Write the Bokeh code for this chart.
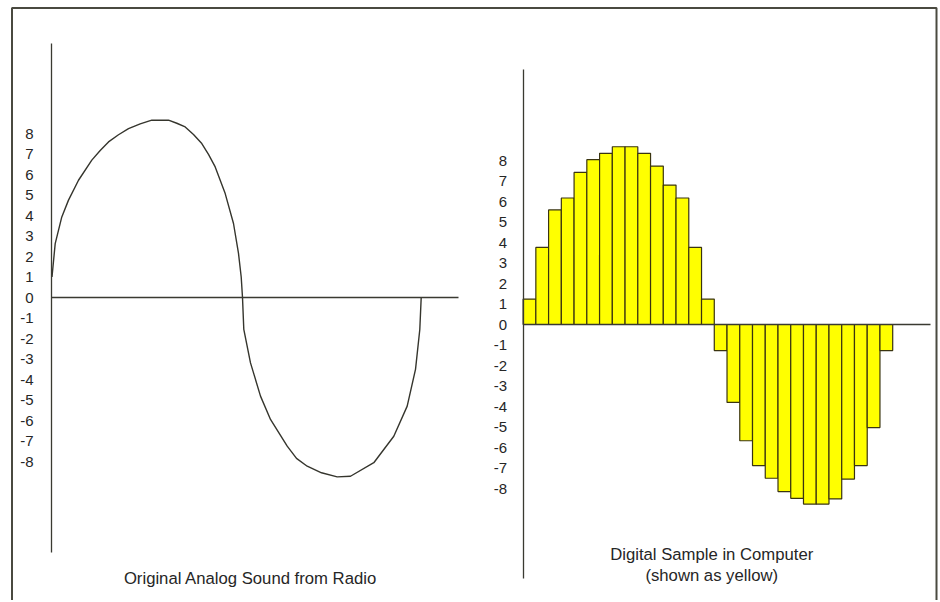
from bokeh.plotting import figure
from bokeh.models import Range1d, LinearAxis, FixedTicker, Label, BoxAnnotation
from bokeh.embed import file_html
from bokeh.resources import INLINE

# ---------------- data ----------------
# left panel: analog waveform (time units, amplitude)
analog_t = [0.5, 3.7, 10.3, 17, 27, 40.3, 48.7, 57, 67, 77, 88.7, 100.3, 117, 125.3, 133.7,
            142, 150.3, 157, 163.7, 173.7, 182, 187, 189.7, 191, 192.3, 199, 209, 219,
            235.7, 245, 255.7, 270, 285.7, 299, 322.3, 342.3, 355.7, 364, 368.3, 369.7]
analog_v = [1.0, 2.63, 3.93, 4.75, 5.72, 6.70, 7.17, 7.59, 7.94, 8.24, 8.47, 8.65, 8.65, 8.5, 8.32,
            7.95, 7.51, 6.98, 6.37, 5.07, 3.61, 2.15, 1.0, 0.0, -1.56, -3.19, -4.81, -5.95,
            -7.25, -7.85, -8.23, -8.55, -8.75, -8.72, -8.06, -6.77, -5.30, -3.51, -1.56, 0.0]

# right panel: digital samples
sample_idx = list(range(1, 30))
sample_v = [1.24, 3.76, 5.59, 6.17, 7.42, 8.04, 8.35, 8.67, 8.67, 8.35, 7.73, 6.80, 6.17, 3.76, 1.24,
            -1.27, -3.80, -5.67, -6.88, -7.50, -8.15, -8.48, -8.76, -8.76, -8.51, -7.54, -6.88, -5.03, -1.27]

tick_values = list(range(-8, 9))
tick_labels = [str(v) for v in tick_values]
left_caption = "Original Analog Sound from Radio"
right_caption = ["Digital Sample in Computer", "(shown as yellow)"]

# ---------------- styling ----------------
W, H = 938, 600
FONT = "Liberation Sans"
AX = "#3a3a32"
TXT = "#262626"
PXU_L_X = 1.0      # px per time unit (left)
PXU_Y = 20.5       # px per amplitude unit
PXU_R_X = 12.745   # px per sample (right)

l_axis_px, l_zero_px = 51.0, 297.0
r_axis_px, r_zero_px = 522.6, 324.0

p = figure(width=W, height=H, output_backend="svg", toolbar_location=None,
           x_axis_type=None, y_axis_type=None,
           x_range=Range1d(-l_axis_px / PXU_L_X, (W - l_axis_px) / PXU_L_X),
           y_range=Range1d(-(H - l_zero_px) / PXU_Y, l_zero_px / PXU_Y),
           min_border_left=0, min_border_right=0, min_border_top=0, min_border_bottom=0)
p.outline_line_color = None
p.background_fill_color = "white"
p.border_fill_color = "white"
p.extra_x_ranges = {"rx": Range1d(0.5 - r_axis_px / PXU_R_X, 0.5 + (W - r_axis_px) / PXU_R_X)}
p.extra_y_ranges = {"ry": Range1d(-(H - r_zero_px) / PXU_Y, r_zero_px / PXU_Y)}

overrides = dict(zip(tick_values, tick_labels))

def yaxis(**kw):
    return LinearAxis(ticker=FixedTicker(ticks=tick_values), major_label_overrides=overrides,
                      major_tick_line_color=None, minor_tick_line_color=None,
                      axis_line_color=AX, axis_line_width=1.3,
                      major_label_text_font=FONT, major_label_text_font_size="15px",
                      major_label_text_color=TXT, **kw)

def zaxis(**kw):
    return LinearAxis(ticker=FixedTicker(ticks=[]), major_tick_line_color=None,
                      minor_tick_line_color=None, axis_line_color=AX, axis_line_width=1.3,
                      major_label_text_font_size="0px", **kw)

# left panel
p.add_layout(yaxis(fixed_location=0, bounds=(-12.44, 12.39), major_label_standoff=12), "left")
p.add_layout(zaxis(fixed_location=0, bounds=(0, 407)), "below")
p.line(analog_t, analog_v, line_color="#35352d", line_width=1.4)

# right panel
p.vbar(x=sample_idx, top=sample_v, bottom=0, width=1.0, fill_color="#ffff00",
       line_color="#3a3410", line_width=1.2, x_range_name="rx", y_range_name="ry")
p.add_layout(yaxis(fixed_location=0.5, bounds=(-12.39, 12.44), major_label_standoff=10,
                   x_range_name="rx", y_range_name="ry"), "left")
p.add_layout(zaxis(fixed_location=0, bounds=(0.5, 32.47), x_range_name="rx", y_range_name="ry"), "below")

# captions
p.add_layout(Label(x=199, y=-13.7, text=left_caption, text_align="center", text_baseline="middle",
                   text_font=FONT, text_font_size="16.7px", text_color=TXT))
for i, line in enumerate(right_caption):
    p.add_layout(Label(x=15.3, y=-11.24 - i * 1.0, text=line, text_align="center",
                       text_baseline="middle", text_font=FONT, text_font_size="16.7px",
                       text_color=TXT, x_range_name="rx", y_range_name="ry"))

# outer frame (open at the bottom)
p.add_layout(BoxAnnotation(left=11.5, right=936, top=H - 7.5, bottom=-30,
                           left_units="screen", right_units="screen",
                           top_units="screen", bottom_units="screen",
                           fill_color=None, fill_alpha=0, line_color="#4a4a40",
                           line_alpha=1.0, line_width=2))

open("out.html", "w").write(file_html(p, INLINE))
